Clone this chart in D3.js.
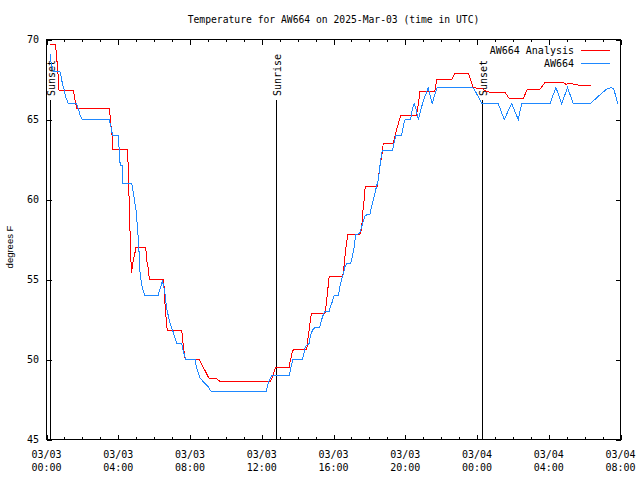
<!DOCTYPE html>
<html><head><meta charset="utf-8">
<script src="https://cdn.jsdelivr.net/npm/d3@7"></script>
<style>body{margin:0;background:#fff}svg{display:block}</style>
</head><body>
<svg id="c" width="640" height="480"></svg>
<script>
const chartTitle = "Temperature for AW664 on 2025-Mar-03 (time in UTC)";
const yLabel = "degrees F";
const seriesNames = ["AW664 Analysis", "AW664"];
const seriesColors = ["#ff0000", "#1e88ff"];
const xTickHours = [0, 4, 8, 12, 16, 20, 24, 28, 32];
const xTickDates = ["03/03","03/03","03/03","03/03","03/03","03/03","03/04","03/04","03/04"];
const xTickTimes = ["00:00","04:00","08:00","12:00","16:00","20:00","00:00","04:00","08:00"];
const yTicks = [45, 50, 55, 60, 65, 70];
const eventNames = ["Sunset", "Sunrise", "Sunset"];
const eventHours = [0.21, 12.79, 24.3];

// [hours since 2025-03-03 00:00 UTC, degrees F]
const analysisSeries = [[0.20,69.7],[0.51,69.7],[0.57,68.6],[0.60,68.6],[0.70,66.8],[1.49,66.8],[1.53,66.6],[1.57,66.3],[1.68,65.7],[3.50,65.7],[3.54,65.3],[3.58,64.9],[3.61,64.4],[3.65,64.1],[3.69,63.1],[4.50,63.1],[4.56,62.1],[4.60,60.2],[4.65,58.3],[4.69,56.5],[4.75,55.4],[4.78,55.8],[4.84,56.2],[4.92,56.6],[4.99,57.0],[5.53,57.0],[5.59,56.2],[5.66,55.8],[5.70,55.4],[5.73,55.0],[6.51,55.0],[6.55,54.6],[6.59,53.8],[6.64,52.9],[6.70,52.3],[6.73,51.8],[7.54,51.8],[7.57,51.5],[7.63,50.8],[7.68,50.4],[7.74,50.0],[8.52,50.0],[8.56,49.9],[8.65,49.7],[8.74,49.5],[8.84,49.3],[8.93,49.1],[9.02,48.9],[9.11,48.8],[9.49,48.8],[9.58,48.7],[9.71,48.6],[12.46,48.6],[12.51,48.7],[12.59,48.9],[12.64,49.1],[12.70,49.3],[12.74,49.4],[12.79,49.5],[13.54,49.5],[13.57,49.8],[13.63,50.1],[13.68,50.4],[13.76,50.6],[14.50,50.6],[14.54,50.9],[14.59,51.5],[14.65,51.9],[14.69,52.3],[14.74,52.7],[14.78,52.9],[15.52,52.9],[15.56,53.1],[15.62,53.7],[15.67,54.2],[15.71,54.7],[15.76,55.2],[16.51,55.2],[16.54,55.4],[16.60,56.0],[16.66,56.7],[16.73,57.3],[16.79,57.8],[17.47,57.8],[17.53,58.0],[17.57,58.3],[17.63,59.0],[17.66,59.6],[17.71,60.0],[17.77,60.8],[18.44,60.8],[18.50,61.3],[18.59,62.1],[18.68,62.7],[18.74,63.1],[18.77,63.5],[19.33,63.5],[19.39,63.8],[19.48,64.2],[19.58,64.6],[19.67,65.0],[19.76,65.25],[20.62,65.25],[20.74,66.0],[20.82,66.75],[21.65,66.75],[21.75,67.5],[22.59,67.5],[22.77,67.9],[23.51,67.9],[23.79,67.0],[24.35,66.9],[24.44,66.8],[24.72,66.7],[25.56,66.7],[25.80,66.3],[26.58,66.3],[26.80,66.9],[27.51,66.9],[27.79,67.3],[28.81,67.3],[28.96,67.2],[29.18,67.25],[29.46,67.2],[29.83,67.1],[30.33,67.1]];

const observedSeries = [[0.20,69.1],[0.25,68.6],[0.31,68.3],[0.35,68.1],[0.42,68.0],[0.75,68.0],[0.81,67.7],[0.86,67.4],[0.92,67.1],[0.98,66.9],[1.03,66.6],[1.09,66.35],[1.16,66.15],[1.22,66.0],[1.68,66.0],[1.74,65.8],[1.79,65.6],[1.87,65.3],[1.94,65.1],[2.00,65.0],[3.50,65.0],[3.54,64.8],[3.60,64.5],[3.65,64.2],[3.69,64.0],[4.00,64.0],[4.06,63.0],[4.11,62.1],[4.23,62.1],[4.24,61.0],[4.75,61.0],[4.80,60.7],[4.84,60.4],[4.89,60.1],[4.95,59.6],[5.01,59.2],[5.06,58.4],[5.12,57.5],[5.17,56.5],[5.21,55.5],[5.28,54.9],[5.34,54.5],[5.40,54.3],[5.49,54.0],[6.23,54.0],[6.29,54.3],[6.38,54.6],[6.45,54.9],[6.51,54.7],[6.59,54.3],[6.64,53.75],[6.70,53.2],[6.76,52.9],[6.81,52.6],[6.88,52.3],[6.94,52.1],[7.00,51.9],[7.07,51.7],[7.16,51.35],[7.26,51.0],[7.54,51.0],[7.59,50.7],[7.66,50.4],[7.74,50.1],[7.78,50.0],[8.28,50.0],[8.33,49.7],[8.41,49.3],[8.48,49.1],[8.56,48.85],[8.65,48.75],[8.74,48.6],[8.84,48.5],[8.93,48.4],[9.02,48.3],[9.11,48.1],[9.21,48.0],[12.24,48.0],[12.27,48.1],[12.36,48.5],[12.46,48.8],[12.55,49.0],[13.53,49.0],[13.57,49.2],[13.67,49.7],[13.72,50.0],[14.28,50.0],[14.31,50.2],[14.41,50.7],[14.50,50.9],[14.65,51.0],[14.69,51.35],[14.78,51.7],[14.87,51.9],[14.97,52.0],[15.21,52.0],[15.25,52.1],[15.34,52.5],[15.43,52.8],[15.52,53.0],[15.76,53.0],[15.80,53.2],[15.90,53.5],[15.99,53.85],[16.03,54.0],[16.27,54.0],[16.32,54.3],[16.36,54.6],[16.45,55.0],[16.54,55.3],[16.64,55.8],[16.73,56.0],[16.96,56.0],[17.01,56.25],[17.10,56.7],[17.16,57.1],[17.20,57.5],[17.25,57.8],[17.47,57.9],[17.51,58.1],[17.57,58.3],[17.66,58.65],[17.75,58.95],[17.85,59.05],[18.03,59.05],[18.09,59.4],[18.18,59.8],[18.27,60.2],[18.35,60.6],[18.44,61.0],[18.50,61.25],[18.59,62.1],[18.65,62.6],[18.68,62.9],[18.74,63.05],[19.30,63.05],[19.33,63.3],[19.39,63.65],[19.48,64.0],[19.80,64.0],[19.86,64.4],[19.93,64.8],[20.00,65.0],[20.30,65.0],[20.35,65.4],[20.44,65.8],[20.50,66.0],[20.59,65.7],[20.67,65.3],[20.73,65.0],[20.82,65.4],[21.00,66.15],[21.19,66.7],[21.28,67.0],[21.38,66.55],[21.50,66.0],[21.65,66.55],[21.78,67.0],[23.76,67.0],[23.89,66.8],[24.01,66.55],[24.16,66.25],[24.25,66.0],[25.18,66.0],[25.52,65.0],[25.93,66.0],[26.30,65.0],[26.49,66.0],[28.07,66.0],[28.40,67.0],[28.72,66.0],[29.05,67.0],[29.36,66.0],[30.33,66.0],[30.76,66.45],[31.23,66.9],[31.50,67.0],[31.63,66.9],[31.84,66.0]];

const mono = "'DejaVu Sans Mono', monospace";
const sans = "'Liberation Sans', Arial, sans-serif";
const t0 = Date.UTC(2025, 2, 3);
const toDate = h => new Date(t0 + h * 3600e3);

const L = 46.5, R = 620.5, T = 39.5, B = 439.5;
const svg = d3.select("#c");
const x = d3.scaleUtc().domain([toDate(0), toDate(32)]).range([L, R]);
const y = d3.scaleLinear().domain([45, 70]).range([B, T]);

const minorHours = d3.range(0, 33).filter(h => h % 4 !== 0);

function styleAxis(g) {
  g.select(".domain").remove();
  g.selectAll("text").remove();
  g.selectAll("line").attr("stroke", "#000").attr("shape-rendering", "crispEdges");
}
// bottom & top axes (inward ticks)
svg.append("g").attr("transform", `translate(0,${B})`)
  .call(d3.axisBottom(x).tickValues(xTickHours.map(toDate)).tickSizeInner(-5).tickSizeOuter(0)).call(styleAxis);
svg.append("g").attr("transform", `translate(0,${B})`)
  .call(d3.axisBottom(x).tickValues(minorHours.map(toDate)).tickSizeInner(-2.5).tickSizeOuter(0)).call(styleAxis);
svg.append("g").attr("transform", `translate(0,${T})`)
  .call(d3.axisTop(x).tickValues(xTickHours.map(toDate)).tickSizeInner(-5).tickSizeOuter(0)).call(styleAxis);
svg.append("g").attr("transform", `translate(0,${T})`)
  .call(d3.axisTop(x).tickValues(minorHours.map(toDate)).tickSizeInner(-2.5).tickSizeOuter(0)).call(styleAxis);
svg.append("g").attr("transform", `translate(${L},0)`)
  .call(d3.axisLeft(y).tickValues(yTicks).tickSizeInner(-5).tickSizeOuter(0)).call(styleAxis);
svg.append("g").attr("transform", `translate(${R},0)`)
  .call(d3.axisRight(y).tickValues(yTicks).tickSizeInner(-5).tickSizeOuter(0)).call(styleAxis);

// border
svg.append("rect").attr("x", L).attr("y", T).attr("width", R - L).attr("height", B - T)
  .attr("fill", "none").attr("stroke", "#000").attr("shape-rendering", "crispEdges");

// x tick labels
const xl = svg.append("g").attr("font-family", mono).attr("font-size", 10).attr("text-anchor", "middle");
xTickHours.forEach((h, i) => {
  const t = xl.append("text").attr("x", x(toDate(h)));
  t.append("tspan").attr("x", x(toDate(h))).attr("y", 458).text(xTickDates[i]);
  t.append("tspan").attr("x", x(toDate(h))).attr("y", 471).text(xTickTimes[i]);
});
// y tick labels
svg.append("g").attr("font-family", mono).attr("font-size", 10).attr("text-anchor", "end")
  .selectAll("text").data(yTicks).join("text")
  .attr("x", 39).attr("y", d => y(d) + 3.6).text(d => d);

// y label
svg.append("text").attr("transform", `translate(12.5,247) rotate(-90)`)
  .attr("text-anchor", "middle").attr("font-family", sans).attr("font-size", 9.5).text(yLabel);

// title
svg.append("text").attr("x", (L + R) / 2).attr("y", 23).attr("text-anchor", "middle")
  .attr("font-family", mono).attr("font-size", 9.7).text(chartTitle);

// event lines
eventHours.forEach((h, i) => {
  const ex = Math.round(x(toDate(h))) + 0.5;
  svg.append("line").attr("x1", ex).attr("x2", ex).attr("y1", 99.5).attr("y2", B)
    .attr("stroke", "#000").attr("shape-rendering", "crispEdges");
  svg.append("text").attr("transform", `translate(${ex + 4.5},96) rotate(-90)`)
    .attr("font-family", mono).attr("font-size", 10).text(eventNames[i]);
});

// series
const line = d3.line().x(d => x(toDate(d[0]))).y(d => y(d[1]));
[analysisSeries, observedSeries].forEach((s, i) => {
  svg.append("path").datum(s).attr("d", line).attr("fill", "none")
    .attr("stroke", seriesColors[i]).attr("stroke-width", 1).attr("shape-rendering", "crispEdges");
});

// legend
const lg = svg.append("g").attr("font-family", mono).attr("font-size", 10);
seriesNames.forEach((n, i) => {
  const ly = 50.5 + i * 13;
  lg.append("text").attr("x", 574).attr("y", ly + 3.5).attr("text-anchor", "end").text(n);
  lg.append("line").attr("x1", 581).attr("x2", 610).attr("y1", ly).attr("y2", ly)
    .attr("stroke", seriesColors[i]).attr("shape-rendering", "crispEdges");
});
</script>
</body></html>
